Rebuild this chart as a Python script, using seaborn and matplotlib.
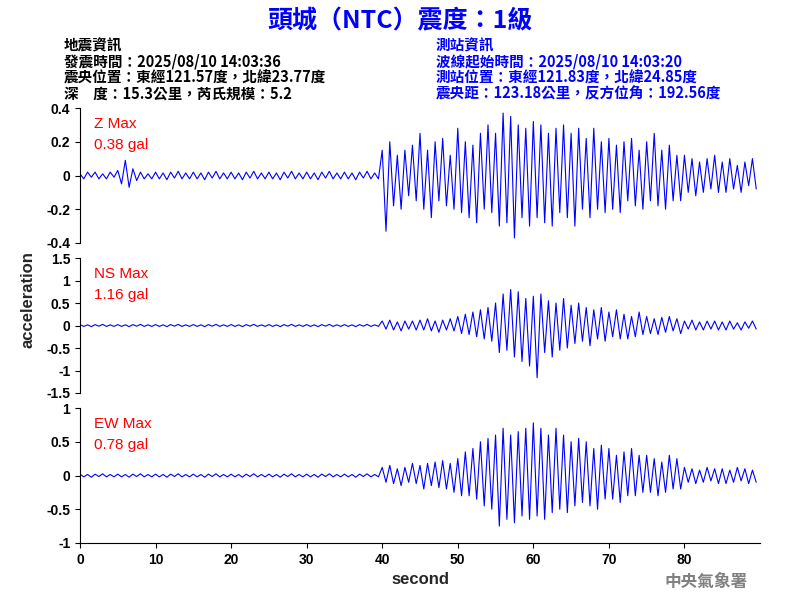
import numpy as np
import pandas as pd
import seaborn as sns
import matplotlib.pyplot as plt

# ===============================
# Data (estimated samples every 0.5 s)
# ===============================
quiet = [0.02, -0.02, 0.015, -0.025, 0.02, -0.015, 0.025, -0.02, 0.015, -0.02]

z_vals = ([0.01, -0.02, 0.02, -0.01, 0.02, -0.02, 0.01, -0.02, 0.02, -0.01,
           0.03, -0.05, 0.09, -0.07, 0.04, -0.03, 0.02, -0.02, 0.01, -0.02]
          + quiet * 6
          + [0.15, -0.33, 0.2, -0.18, 0.12, -0.2, 0.15, -0.12, 0.18, -0.15,
             0.25, -0.2, 0.15, -0.25, 0.2, -0.15, 0.22, -0.18, 0.12, -0.2,
             0.28, -0.22, 0.2, -0.25, 0.18, -0.28, 0.25, -0.2, 0.3, -0.22,
             0.25, -0.3, 0.37, -0.28, 0.35, -0.37, 0.3, -0.25, 0.28, -0.3,
             0.32, -0.25, 0.3, -0.28, 0.25, -0.3, 0.28, -0.22, 0.3, -0.25,
             0.25, -0.3, 0.28, -0.2, 0.22, -0.25, 0.28, -0.2, 0.2, -0.22,
             0.22, -0.2, 0.18, -0.22, 0.2, -0.15, 0.22, -0.18, 0.15, -0.2,
             0.2, -0.15, 0.25, -0.18, 0.15, -0.2, 0.18, -0.15, 0.12, -0.15,
             0.12, -0.1, 0.1, -0.12, 0.08, -0.1, 0.1, -0.08, 0.12, -0.1,
             0.08, -0.1, 0.1, -0.08, 0.06, -0.1, 0.08, -0.06, 0.1, -0.08])

ns_vals = (quiet * 8
           + [0.1, -0.08, 0.12, -0.1, 0.08, -0.12, 0.1, -0.08, 0.1, -0.1,
              0.12, -0.1, 0.15, -0.12, 0.1, -0.15, 0.12, -0.1, 0.15, -0.12,
              0.2, -0.18, 0.25, -0.2, 0.3, -0.25, 0.35, -0.3, 0.4, -0.35,
              0.5, -0.6, 0.7, -0.55, 0.8, -0.7, 0.75, -0.8, 0.6, -0.9,
              0.65, -1.16, 0.7, -0.6, 0.55, -0.7, 0.5, -0.55, 0.6, -0.5,
              0.45, -0.4, 0.5, -0.35, 0.4, -0.45, 0.35, -0.3, 0.4, -0.35,
              0.3, -0.25, 0.35, -0.3, 0.25, -0.3, 0.2, -0.25, 0.3, -0.2,
              0.2, -0.18, 0.15, -0.2, 0.18, -0.15, 0.2, -0.12, 0.15, -0.18,
              0.1, -0.08, 0.12, -0.1, 0.08, -0.1, 0.1, -0.08, 0.1, -0.1,
              0.08, -0.1, 0.1, -0.08, 0.06, -0.1, 0.08, -0.06, 0.1, -0.08])

ew_vals = (quiet * 8
           + [0.12, -0.1, 0.15, -0.12, 0.1, -0.15, 0.12, -0.1, 0.18, -0.12,
              0.15, -0.2, 0.18, -0.15, 0.2, -0.18, 0.22, -0.2, 0.18, -0.25,
              0.25, -0.3, 0.35, -0.3, 0.4, -0.35, 0.5, -0.45, 0.55, -0.5,
              0.6, -0.75, 0.7, -0.65, 0.6, -0.7, 0.65, -0.6, 0.7, -0.65,
              0.78, -0.6, 0.7, -0.65, 0.6, -0.55, 0.7, -0.5, 0.6, -0.55,
              0.5, -0.45, 0.55, -0.4, 0.5, -0.45, 0.4, -0.5, 0.45, -0.35,
              0.4, -0.35, 0.3, -0.4, 0.35, -0.3, 0.4, -0.3, 0.3, -0.25,
              0.3, -0.25, 0.25, -0.3, 0.2, -0.25, 0.3, -0.2, 0.25, -0.2,
              0.12, -0.1, 0.1, -0.12, 0.08, -0.1, 0.12, -0.08, 0.1, -0.12,
              0.1, -0.12, 0.08, -0.1, 0.12, -0.08, 0.1, -0.12, 0.08, -0.1])

t = np.arange(len(z_vals)) * 0.5

channels = ["Z", "NS", "EW"]
max_labels = ["0.38 gal", "1.16 gal", "0.78 gal"]
ylims = [(-0.4, 0.4), (-1.5, 1.5), (-1, 1)]
yticks = [[-0.4, -0.2, 0, 0.2, 0.4],
          [-1.5, -1, -0.5, 0, 0.5, 1, 1.5],
          [-1, -0.5, 0, 0.5, 1]]
series = [z_vals, ns_vals, ew_vals]

# ===============================
# Plot
# ===============================
sns.set_style("ticks")
plt.rcParams['font.family'] = ['Noto Sans CJK TC', 'DejaVu Sans']

fig = plt.figure(figsize=(8, 6), dpi=100)
bottoms = [0.595, 0.345, 0.095]
for i, ch in enumerate(channels):
    ax = fig.add_axes([0.1, bottoms[i], 0.85, 0.225])
    df = pd.DataFrame({"t": t, "a": series[i]})
    sns.lineplot(data=df, x="t", y="a", ax=ax, color="blue", linewidth=0.8)
    ax.set_xlim(0, 90)
    ax.set_ylim(*ylims[i])
    ax.set_yticks(yticks[i])
    ax.set_yticklabels([f"{v:g}" for v in yticks[i]], fontsize=10,
                       family=["Liberation Sans"], fontweight="bold")
    ax.tick_params(colors="black")
    ax.set_xlabel("")
    ax.set_ylabel("")
    sns.despine(ax=ax, right=True, top=True)
    for s in ("left", "bottom"):
        ax.spines[s].set_color("black")
    ax.text(0.02, 0.93, f"{ch} Max", transform=ax.transAxes, color="red",
            fontsize=11, va="top", family=["Liberation Sans"])
    ax.text(0.02, 0.78, max_labels[i], transform=ax.transAxes, color="red",
            fontsize=11, va="top", family=["Liberation Sans"])
    if i < 2:
        ax.spines["bottom"].set_visible(False)
        ax.set_xticks([])
    else:
        ax.set_xticks(range(0, 90, 10))
        ax.set_xticklabels([str(v) for v in range(0, 90, 10)], fontsize=10,
                           family=["Liberation Sans"], fontweight="bold")
        ax.set_xlabel("second", fontsize=12, family=["Liberation Sans"],
                      fontweight="bold")

fig.text(0.035, 0.5, "acceleration", rotation=90, va="center", ha="center",
         fontsize=12, family=["Liberation Sans"], fontweight="bold")

fig.text(0.5, 0.965, "頭城（NTC）震度：1級", ha="center", va="center",
         color="blue", fontsize=18, fontweight="bold")
left_info = ["地震資訊", "發震時間：2025/08/10 14:03:36",
             "震央位置：東經121.57度，北緯23.77度",
             "深　度：15.3公里，芮氏規模：5.2"]
right_info = ["測站資訊", "波線起始時間：2025/08/10 14:03:20",
              "測站位置：東經121.83度，北緯24.85度",
              "震央距：123.18公里，反方位角：192.56度"]
for k in range(4):
    fig.text(0.08, 0.925 - k * 0.027, left_info[k], fontsize=10.5,
             fontweight="bold", color="black", va="center")
    fig.text(0.545, 0.925 - k * 0.027, right_info[k], fontsize=10.5,
             fontweight="bold", color="blue", va="center")

fig.text(0.935, 0.03, "中央氣象署", ha="right", va="center", color="gray",
         fontsize=12, fontweight="bold", family=["Noto Sans CJK TC"])

fig.savefig("out.png", dpi=100)
